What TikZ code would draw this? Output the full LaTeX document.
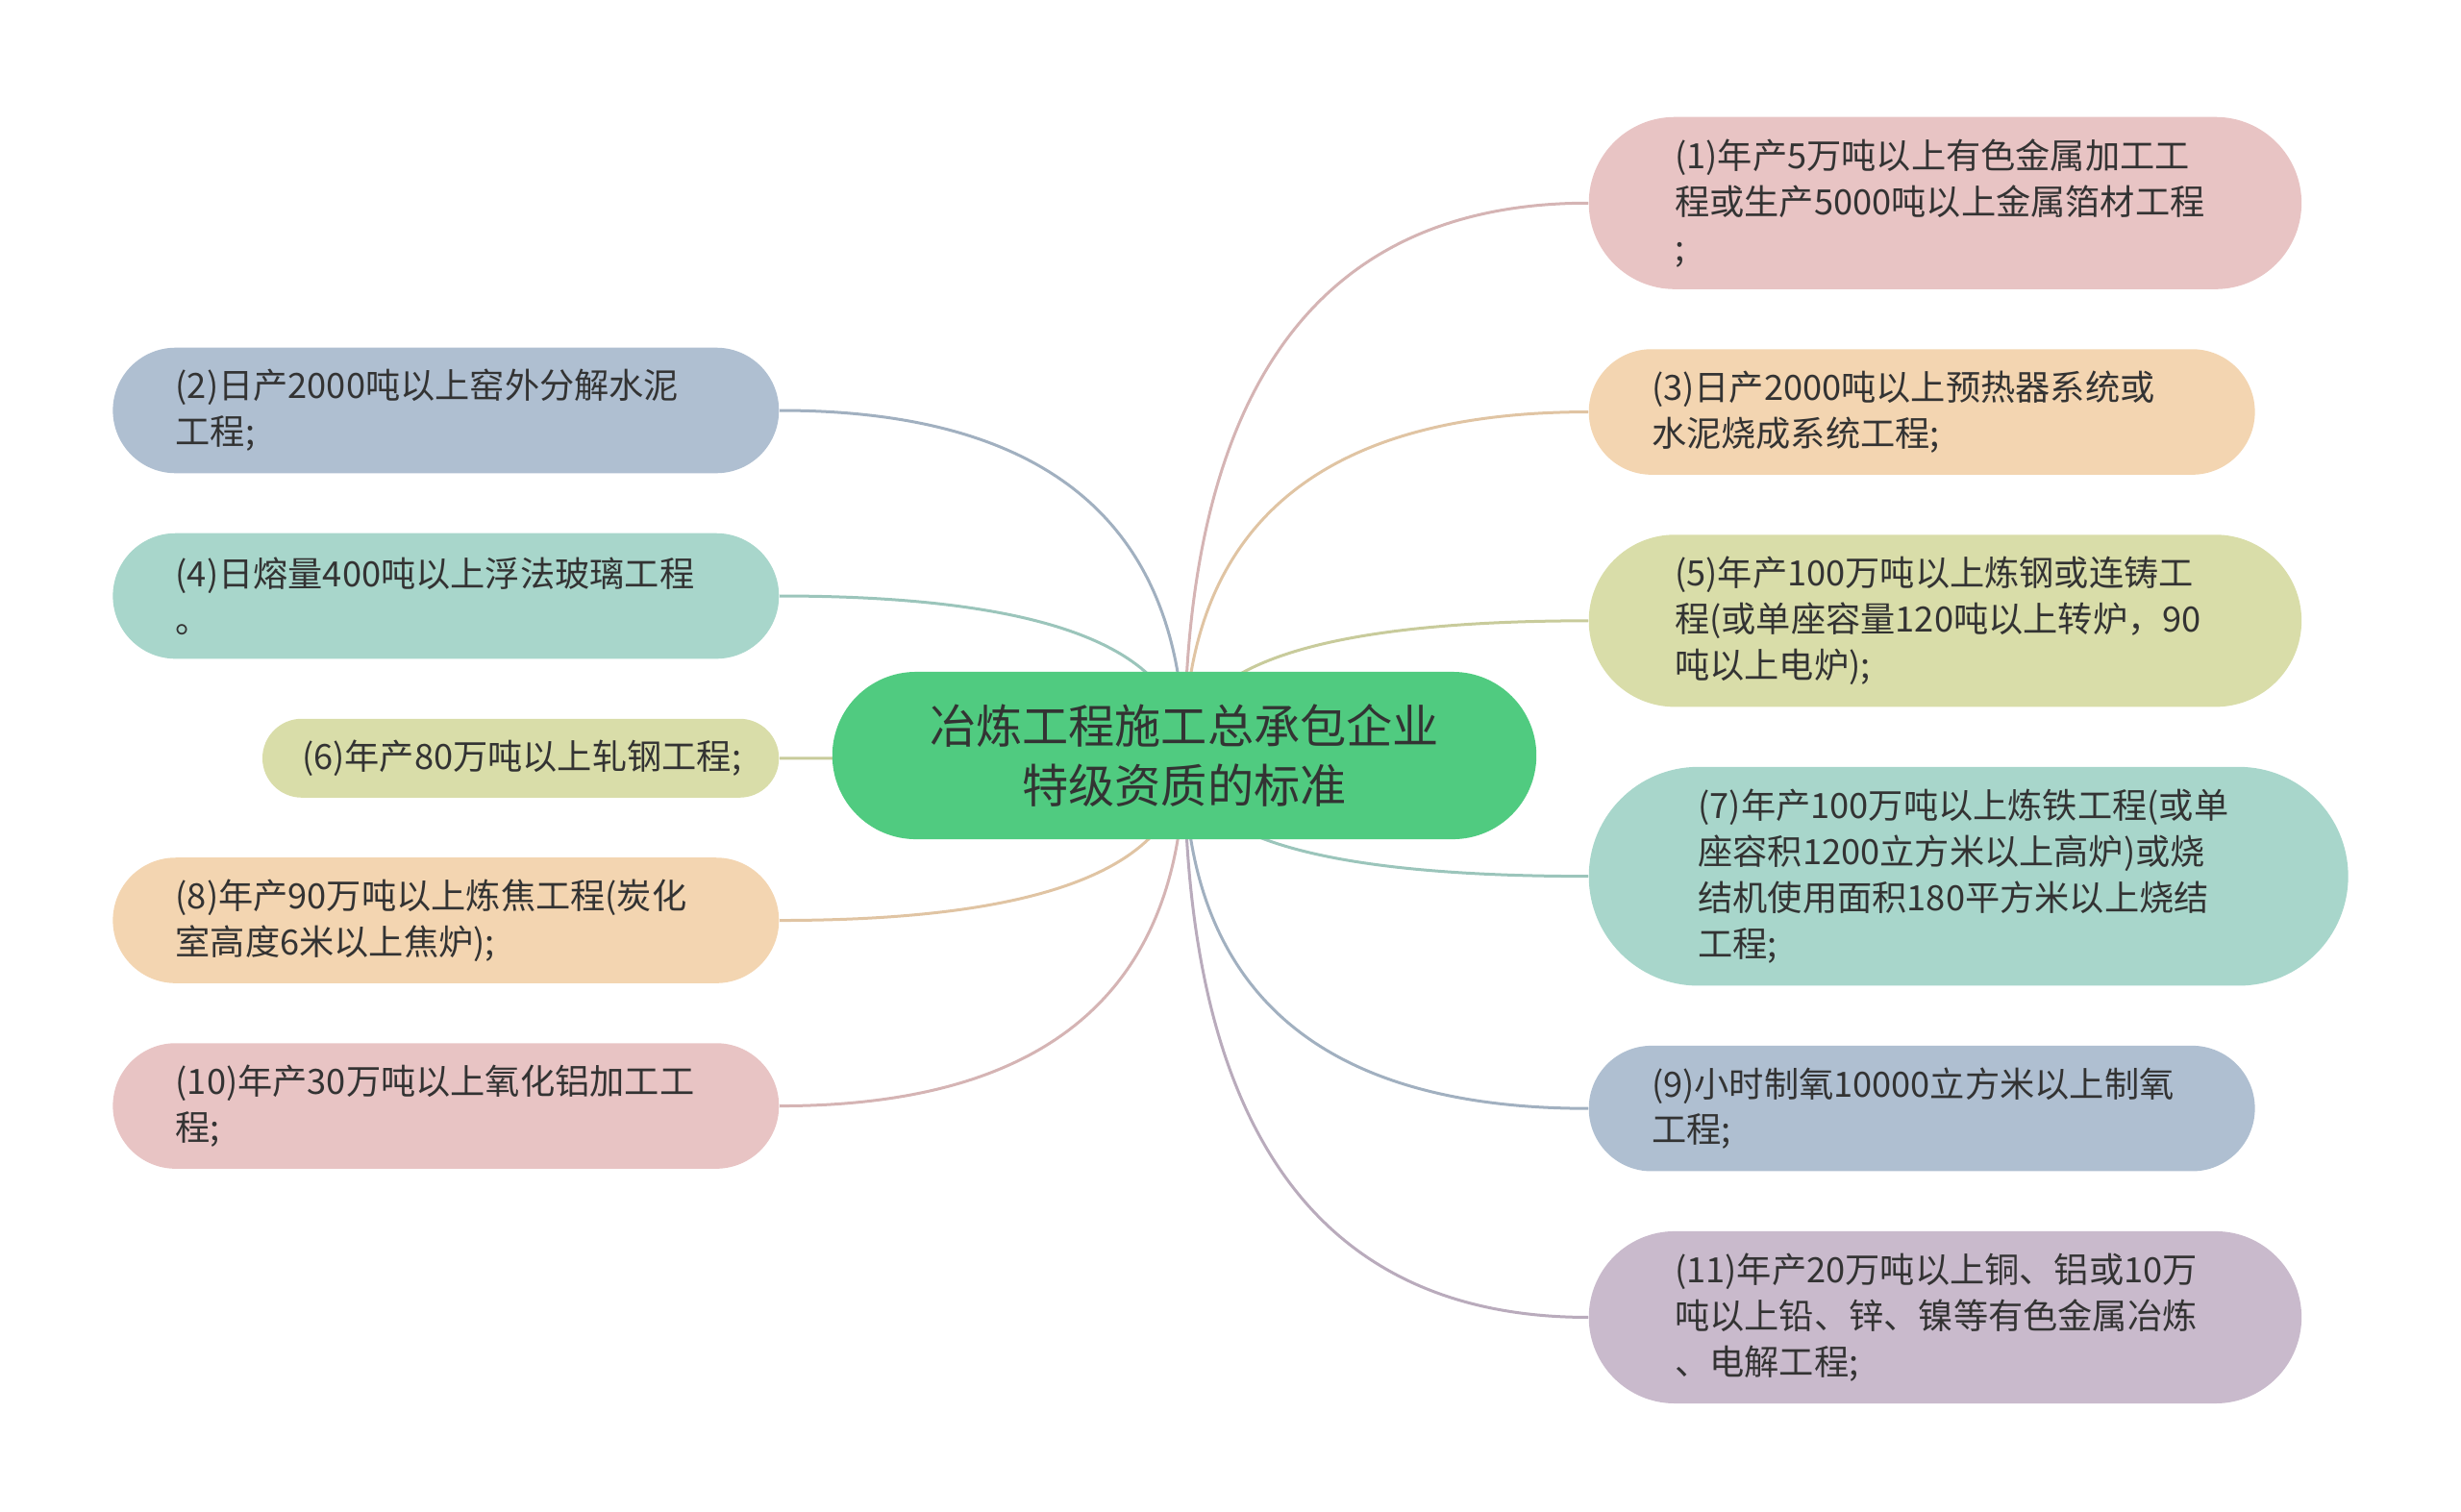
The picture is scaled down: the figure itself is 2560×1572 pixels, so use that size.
\documentclass[tikz,border=0pt]{standalone}
\usepackage{fontspec}
\setmainfont{Noto Sans CJK SC}
\usetikzlibrary{positioning,calc,backgrounds}
\definecolor{mypink}{RGB}{232,196,196}
\definecolor{myblue}{RGB}{175,191,209}
\definecolor{mypeach}{RGB}{243,213,177}
\definecolor{myteal}{RGB}{168,214,203}
\definecolor{myolive}{RGB}{217,221,169}
\definecolor{mypurple}{RGB}{201,186,204}
\definecolor{mygreen}{RGB}{80,203,128}
\definecolor{mytext}{RGB}{51,51,51}

\begin{document}
\begin{tikzpicture}[x=0.01cm,y=-0.01cm,
  leaf/.style={rectangle,text=mytext,align=left,text width=5.62cm,inner ysep=0pt,
    font=\fontsize{10.3pt}{13.6pt}\selectfont},
  lines/.style={minimum height=#1*4.85mm+3.35mm,rounded corners=#1*2.425mm+1.675mm,
    inner xsep=#1*2.425mm+1.675mm},
  link/.style={line width=0.03cm}
]
\useasboundingbox (0,0) rectangle (2560,1572);

% the root
\node[rectangle,fill=mygreen,text=mytext,rounded corners=0.87cm,minimum height=1.74cm,
  inner xsep=0.87cm,inner ysep=0pt,text width=5.58cm,align=center,
  font=\fontsize{13.7pt}{17.6pt}\selectfont] (root) at (1232,786)
  {冶炼工程施工总承包企业\\特级资质的标准};

% the right column
\node[leaf,lines=3,fill=mypink,anchor=north west] (r1) at (1652,121)
  {(1)年产5万吨以上有色金属加工工\\程或生产5000吨以上金属箔材工程\\;};
\node[leaf,lines=2,fill=mypeach,below=6.1mm of r1.south west,anchor=north west] (r3)
  {(3)日产2000吨以上预热器系统或\\水泥烧成系统工程;};
\node[leaf,lines=3,fill=myolive,below=6.1mm of r3.south west,anchor=north west] (r5)
  {(5)年产100万吨以上炼钢或连铸工\\程(或单座容量120吨以上转炉，90\\吨以上电炉);};
\node[leaf,lines=4,fill=myteal,below=6.1mm of r5.south west,anchor=north west] (r7)
  {(7)年产100万吨以上炼铁工程(或单\\座容积1200立方米以上高炉)或烧\\结机使用面积180平方米以上烧结\\工程;};
\node[leaf,lines=2,fill=myblue,below=6.1mm of r7.south west,anchor=north west] (r9)
  {(9)小时制氧10000立方米以上制氧\\工程;};
\node[leaf,lines=3,fill=mypurple,below=6.1mm of r9.south west,anchor=north west] (r11)
  {(11)年产20万吨以上铜、铝或10万\\吨以上铅、锌、镍等有色金属冶炼\\、电解工程;};

% the left column
\node[leaf,lines=2,fill=myblue,anchor=north east] (l2) at (811,361)
  {(2)日产2000吨以上窑外分解水泥\\工程;};
\node[leaf,lines=2,fill=myteal,below=6.1mm of l2.south east,anchor=north east] (l4)
  {(4)日熔量400吨以上浮法玻璃工程\\。};
\node[leaf,lines=1,fill=myolive,text width=4.55cm,below=6.1mm of l4.south east,anchor=north east] (l6)
  {(6)年产80万吨以上轧钢工程;};
\node[leaf,lines=2,fill=mypeach,below=6.1mm of l6.south east,anchor=north east] (l8)
  {(8)年产90万吨以上炼焦工程(炭化\\室高度6米以上焦炉);};
\node[leaf,lines=2,fill=mypink,below=6.1mm of l8.south east,anchor=north east] (l10)
  {(10)年产30万吨以上氧化铝加工工\\程;};

% the branches
\begin{scope}[on background layer]
\foreach \n/\a/\col in {r1/west/mypink,r3/west/mypeach,r5/west/myolive,r7/west/myteal,
    r9/west/myblue,r11/west/mypurple,l2/east/myblue,l4/east/myteal,l6/east/myolive,
    l8/east/mypeach,l10/east/mypink}
  \draw[link,draw=\col!92!black] (root.center)
    .. controls ($(root.center)!0.667!(root.center |- \n.\a)$)
    and ($(\n.\a)!0.667!(root.center |- \n.\a)$) .. (\n.\a);
\end{scope}
\end{tikzpicture}
\end{document}
